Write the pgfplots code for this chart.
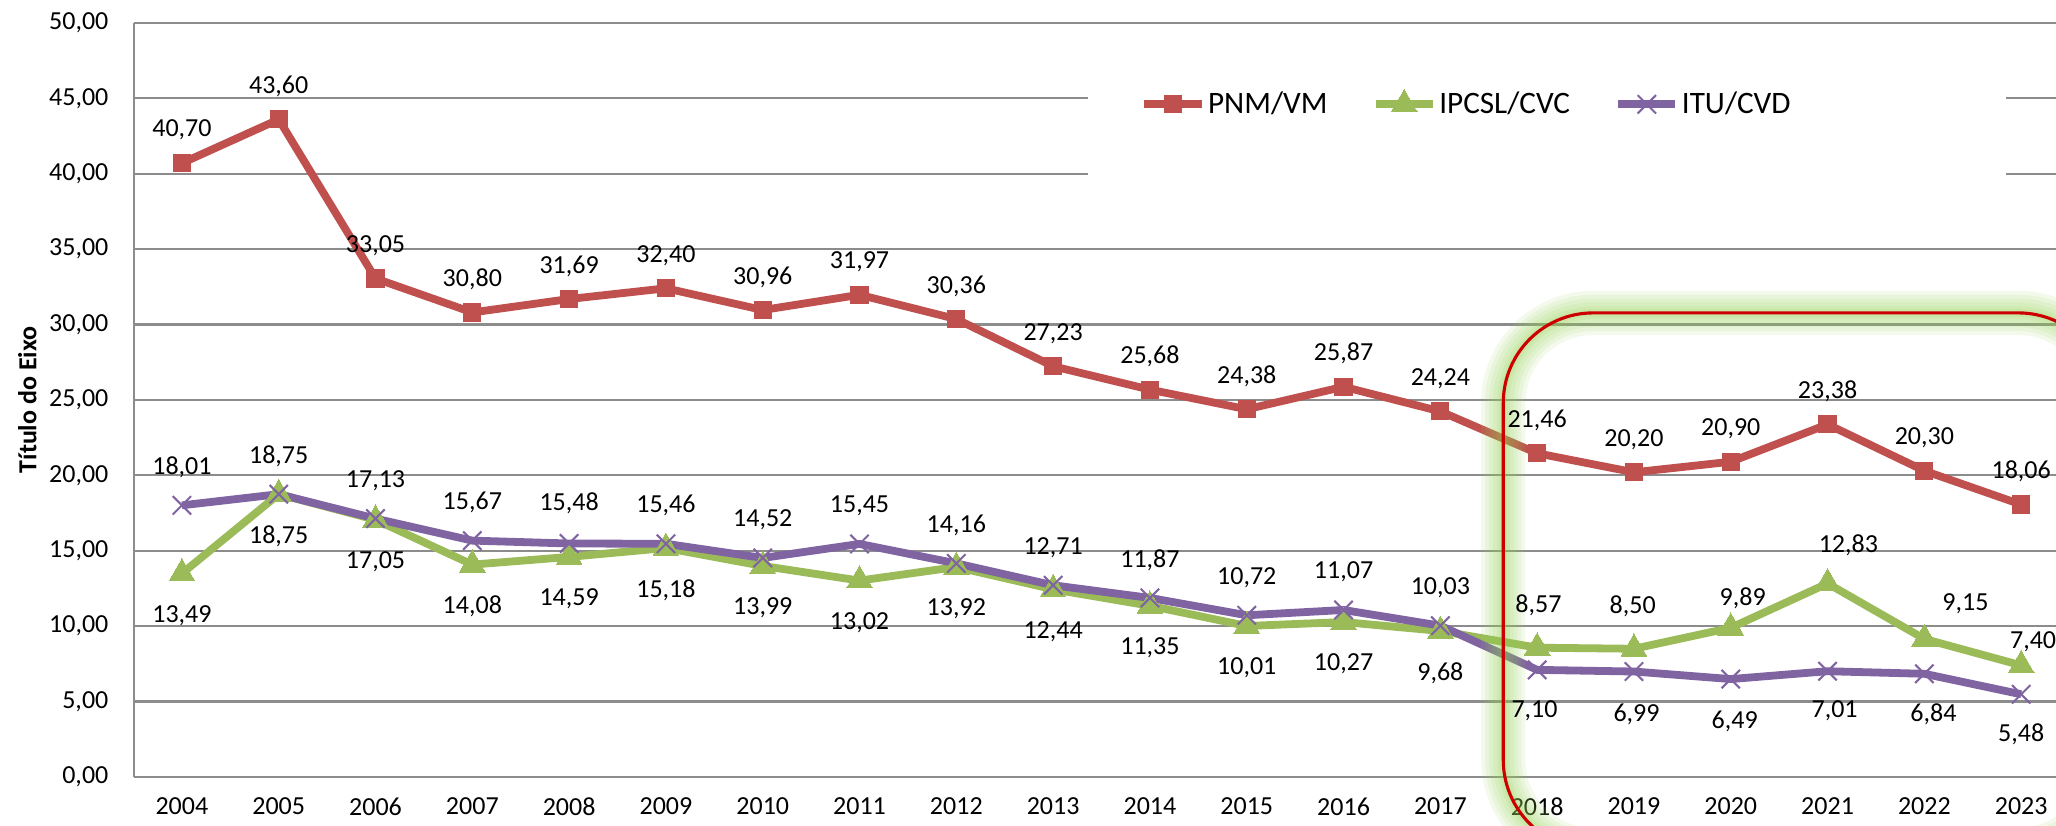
\documentclass[border=0pt]{standalone}
\usepackage{fontspec}
\setmainfont{Carlito}
\usepackage{pgfplots}
\usepackage{pgfplotstable}
\pgfplotsset{compat=1.18}
\definecolor{pnm}{HTML}{C0504D}
\definecolor{ipc}{HTML}{9BBB59}
\definecolor{itu}{HTML}{8064A2}
\definecolor{gridc}{HTML}{8C8C8C}
\definecolor{boxred}{HTML}{CC0000}
\definecolor{glow}{RGB}{146,208,80}

% x = ano (0 = 2004), dx/dy = deslocamento do rotulo em pt
\pgfplotstableread{
x y dx dy
0 40.70 0 12.7
1 43.60 0 12.7
2 33.05 0 12.7
3 30.80 0 12.7
4 31.69 0 12.7
5 32.40 0 12.7
6 30.96 0 12.7
7 31.97 0 12.7
8 30.36 0 12.7
9 27.23 0 12.7
10 25.68 0 12.7
11 24.38 0 12.7
12 25.87 0 12.7
13 24.24 0 12.7
14 21.46 0 12.7
15 20.20 0 12.7
16 20.90 0 12.7
17 23.38 0 12.7
18 20.30 0 12.7
19 18.06 0 12.7
}\pnmdata

\pgfplotstableread{
x y dx dy
0 13.49 0 -16.2
1 18.75 0 -16.2
2 17.05 0 -16.2
3 14.08 0 -16.2
4 14.59 0 -16.2
5 15.18 0 -16.2
6 13.99 0 -16.2
7 13.02 0 -16.2
8 13.92 0 -16.2
9 12.44 0 -16.2
10 11.35 0 -16.2
11 10.01 0 -16.2
12 10.27 0 -16.2
13 9.68 0 -16.2
14 8.57 0.5 16.2
15 8.50 -0.5 16.2
16 9.89 4.6 11.2
17 12.83 8 14.6
18 9.15 15.8 13.5
19 7.40 4.6 9.2
}\ipcdata

\pgfplotstableread{
x y dx dy
0 18.01 0 14.6
1 18.75 0 14.6
2 17.13 0 14.6
3 15.67 0 14.6
4 15.48 0 15.4
5 15.46 0 14.6
6 14.52 0 14.6
7 15.45 0 14.6
8 14.16 0 14.6
9 12.71 0 14.6
10 11.87 0 14.6
11 10.72 0 14.6
12 11.07 0 14.6
13 10.03 0 14.6
14 7.10 -1 -15.8
15 6.99 1 -16.4
16 6.49 1.5 -16.2
17 7.01 2.7 -15
18 6.84 3.5 -15.4
19 5.48 0 -15.4
}\itudata

\begin{document}
\begin{tikzpicture}
\begin{axis}[
  scale only axis,
  width=739.2pt, height=290pt,
  xmin=-0.496, xmax=19.36,
  ymin=0, ymax=50,
  clip=false,
  xtick={0,...,19},
  xticklabels={2004,2005,2006,2007,2008,2009,2010,2011,2012,2013,2014,2015,2016,2017,2018,2019,2020,2021,2022,2023},
  ytick={0,5,...,50},
  major tick length=0pt,
  axis x line*=bottom, axis y line*=left,
  axis line style={draw=gridc, line width=0.8pt, -},
  ymajorgrids, grid style={gridc, line width=0.8pt},
  /pgf/number format/.cd, fixed, fixed zerofill, precision=2, use comma, assume math mode=true,
  /pgfplots/.cd,
  ticklabel style={font=\fontsize{10}{12}\selectfont, text=black},
  yticklabel style={xshift=-6.3pt},
  xticklabel style={yshift=-4.4pt},
  ylabel={\textbf{Título do Eixo}},
  ylabel style={font=\fontsize{10}{12}\selectfont, at={(axis description cs:-0.0555,0.5)}, anchor=center},
  legend columns=3,
  legend style={draw=none, fill=none, inner sep=0pt, at={(axis cs:9.897,44.6)}, anchor=west,
    font=\fontsize{12}{14}\selectfont, nodes={inner sep=1pt},
    /tikz/every even column/.append style={column sep=16pt}},
  legend image code/.code={\draw[mark repeat=2, mark phase=2] plot coordinates {(0pt,0pt) (11pt,0pt) (22pt,0pt)};},
  point meta=y,
  nodes near coords={\pgfmathprintnumber{\pgfplotspointmeta}},
  visualization depends on={\thisrow{dx} \as \dx},
  visualization depends on={\thisrow{dy} \as \dy},
  every node near coord/.append style={anchor=center, xshift=\dx pt, yshift=\dy pt,
    text=black, font=\fontsize{10}{12}\selectfont},
]
\fill[white] (axis cs:9.36,39.2) rectangle (axis cs:18.84,47.5);
\addplot[pnm, line width=3pt, mark=square*, mark size=3.3pt, mark options={line width=0pt}] table[x=x, y=y] {\pnmdata};
\addlegendentry{PNM/VM}
\addplot[ipc, line width=3pt, mark=triangle*, mark size=5.7pt, mark options={line width=0pt}] table[x=x, y=y] {\ipcdata};
\addlegendentry{IPCSL/CVC}
\addplot[itu, line width=3pt, mark=x, mark size=5pt, mark options={line width=0.8pt}] table[x=x, y=y] {\itudata};
\addlegendentry{ITU/CVD}
% destaque 2018-2023
\pgfplotsinvokeforeach{17,14,11,8,5,3}{
  \draw[glow, line width=#1pt, opacity=0.11, rounded corners=34.6pt] (axis cs:13.65,-4.84) rectangle (axis cs:19.9,30.77);
}
\draw[boxred, line width=1.2pt, rounded corners=34.6pt] (axis cs:13.65,-4.84) rectangle (axis cs:19.9,30.77);
\coordinate (bl) at (rel axis cs:0,0);
\coordinate (tr) at (rel axis cs:1,1);
\end{axis}
\pgfresetboundingbox
\path ([xshift=-51.5pt, yshift=-18.8pt]bl) rectangle ([yshift=8.8pt]tr);
\end{tikzpicture}
\end{document}
